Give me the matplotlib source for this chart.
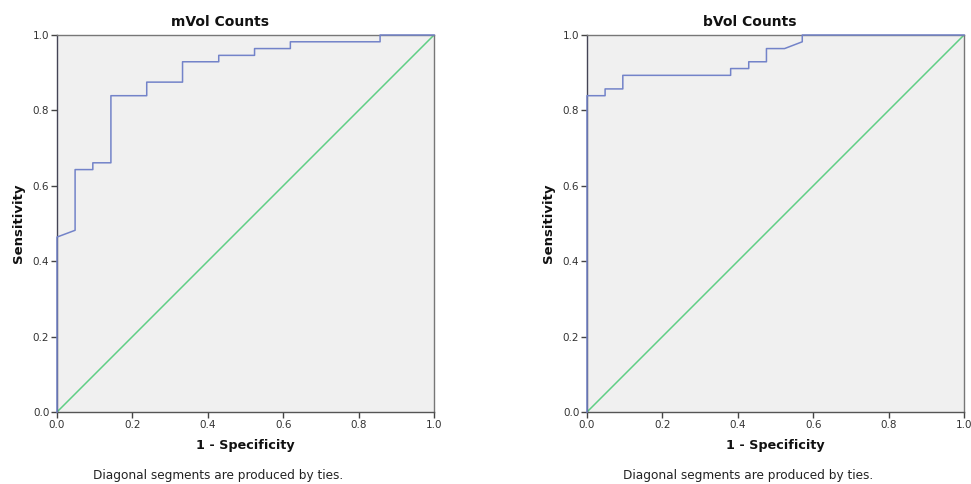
import matplotlib
matplotlib.use("Agg")
import matplotlib.pyplot as plt

# mVol Counts ROC curve
m_fpr = [0.0, 0.0, 0.048, 0.048, 0.095, 0.095, 0.143, 0.143, 0.238, 0.238, 0.333, 0.333,
         0.429, 0.429, 0.524, 0.524, 0.619, 0.619, 0.857, 0.857, 1.0]
m_tpr = [0.0, 0.464, 0.482, 0.643, 0.643, 0.661, 0.661, 0.839, 0.839, 0.875, 0.875, 0.929,
         0.929, 0.946, 0.946, 0.964, 0.964, 0.982, 0.982, 1.0, 1.0]

# bVol Counts ROC curve
b_fpr = [0.0, 0.0, 0.048, 0.048, 0.095, 0.095, 0.381, 0.381, 0.429, 0.429, 0.476, 0.476,
         0.524, 0.571, 0.571, 1.0]
b_tpr = [0.0, 0.839, 0.839, 0.857, 0.857, 0.893, 0.893, 0.911, 0.911, 0.929, 0.929, 0.964,
         0.964, 0.982, 1.0, 1.0]

diag = [0.0, 1.0]
ticks = [0.0, 0.2, 0.4, 0.6, 0.8, 1.0]
tick_labels = ["0.0", "0.2", "0.4", "0.6", "0.8", "1.0"]

titles = ["mVol Counts", "bVol Counts"]
curves = [(m_fpr, m_tpr), (b_fpr, b_tpr)]
footnote = "Diagonal segments are produced by ties."

W, H = 971, 484
fig = plt.figure(figsize=(W / 100, H / 100), dpi=100)
fig.patch.set_facecolor("white")

lefts_px = [57, 587]
for i, lp in enumerate(lefts_px):
    ax = fig.add_axes([lp / W, (H - 412) / H, 377 / W, 377 / H])
    ax.set_facecolor("#f0f0f0")
    ax.plot(diag, diag, color="#5fcf85", lw=1.1, zorder=2)
    fx, ty = curves[i]
    ax.plot(fx, ty, color="#7383c9", lw=1.1, zorder=3, clip_on=False)
    ax.set_xlim(0, 1)
    ax.set_ylim(0, 1)
    ax.set_xticks(ticks)
    ax.set_yticks(ticks)
    ax.set_xticklabels(tick_labels)
    ax.set_yticklabels(tick_labels)
    ax.tick_params(direction="out", length=4, width=1, color="#444444",
                   labelsize=7.5, labelcolor="#333333", pad=1.5)
    for s in ax.spines.values():
        s.set_color("#777777")
        s.set_linewidth(1.0)
    ax.spines["left"].set_color("#444455")
    ax.spines["bottom"].set_color("#555555")
    fig.text((lp + 188.5 - 26) / W, 1 - 22 / H, titles[i], fontsize=10, fontweight="bold",
             ha="center", va="center", color="#111111")
    ax.set_xlabel("1 - Specificity", fontsize=9.2, fontweight="bold", labelpad=7, color="#111111")
    ax.set_ylabel("Sensitivity", fontsize=9.5, fontweight="bold", labelpad=6, color="#111111")
    fig.text((lp + 36) / W, 1 - 476 / H, footnote, fontsize=8.7, ha="left", va="center",
             color="#222222")

fig.savefig("out.png", dpi=100)
